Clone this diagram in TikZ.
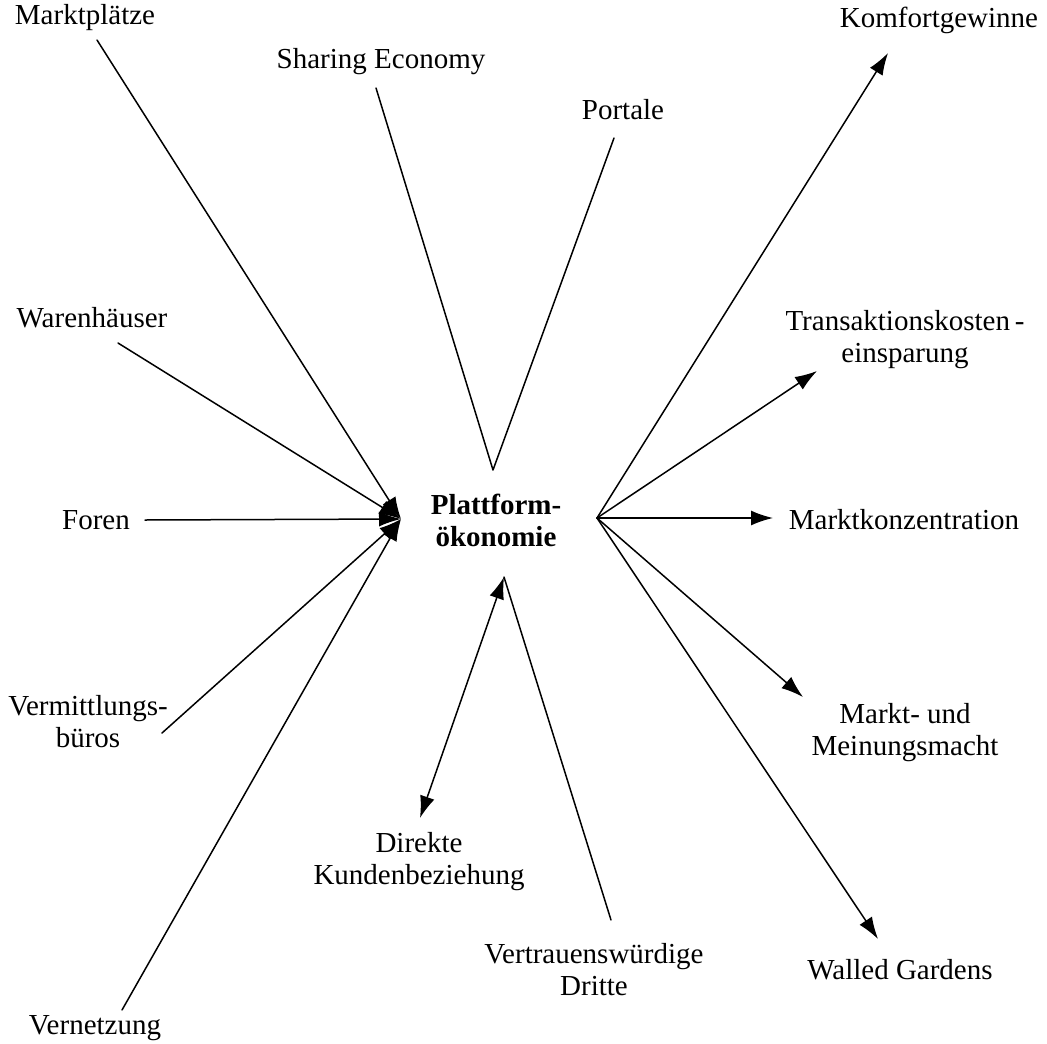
\documentclass[tikz,border=0pt]{standalone}
\usepackage{fontspec}
\setmainfont{Liberation Serif}
\usetikzlibrary{arrows.meta}
\begin{document}
\begin{tikzpicture}[x=0.5pt, y=-0.5pt, font=\fontsize{14.5}{16}\selectfont, line join=round, line cap=round, line width=0.75pt, >={Latex[length=11pt,width=7.5pt]}, lab/.style={align=center, inner sep=0pt}]
\useasboundingbox (0,0) rectangle (1047,1043);
% labels
\node[lab, font=\fontsize{14.5}{16}\selectfont\bfseries] (po) at (496,520) {Plattform-\\ökonomie};
\foreach \nm/\x/\y/\txt in {mp/85/18/Marktplätze, sh/381/62/Sharing Economy, pt/623/110/Portale,
  wh/92/318/Warenhäuser, fo/96/520/Foren, vb/88/722/{Vermittlungs-\\büros}, vn/95/1028/Vernetzung,
  kg/939/20/Komfortgewinne, tk/905/340/{Transaktionskosten\,-\\einsparung}, mk/904/520/Marktkonzentration,
  mm/905/733/{Markt- und\\Meinungsmacht}, wg/900/970/Walled Gardens,
  dk/419/862/{Direkte\\Kundenbeziehung}, vd/594/970/{Vertrauenswürdige\\Dritte}}
  \node[lab] (\nm) at (\x,\y) {\txt};
% meeting points
\coordinate (lhub) at (401,519);
\coordinate (rhub) at (597,518);
\coordinate (thub) at (493,470);
\coordinate (bhub) at (504,577);
% free ends of the connectors
\foreach \nm/\x/\y in {mp/97/40, sh/376/88, pt/614/138, wh/118/343, fo/145/520, vb/162/733, vn/122/1010,
  kg/888/53, tk/817/371, mk/773/518, mm/803/697, wg/878/939, dk/420/818, vd/611/920}
  \coordinate (\nm-e) at (\x,\y);
% connectors
\foreach \a in {mp,wh,fo,vb,vn} \draw[->] (\a-e) -- (lhub);
\foreach \a in {kg,tk,mk,mm,wg} \draw[->] (rhub) -- (\a-e);
\draw (sh-e) -- (thub) -- (pt-e);
\draw[<->] (dk-e) -- (bhub);
\draw (bhub) -- (vd-e);
\end{tikzpicture}
\end{document}
